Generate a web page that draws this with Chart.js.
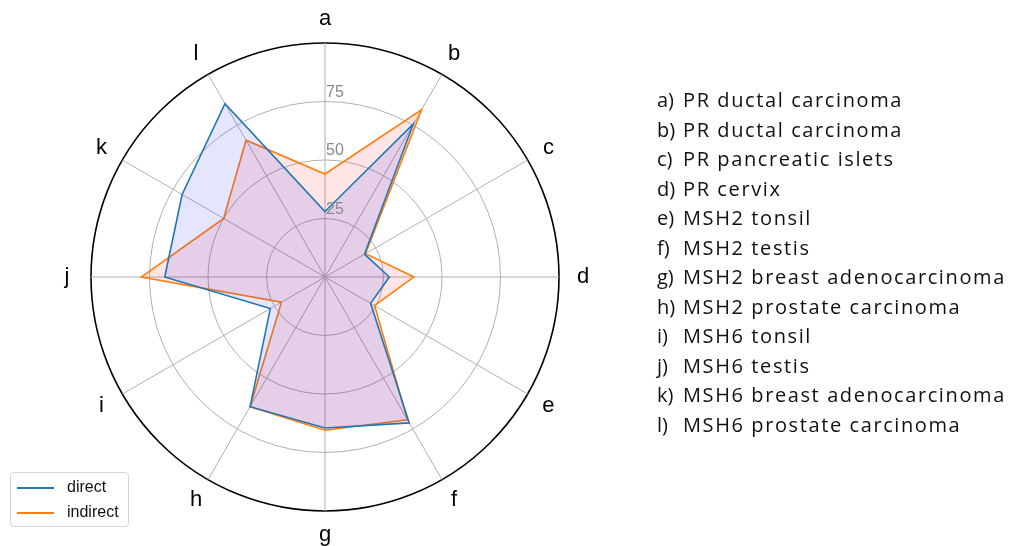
<!DOCTYPE html>
<html>
<head>
<meta charset="utf-8">
<script src="https://cdn.jsdelivr.net/npm/chart.js@4"></script>
<style>
  html, body { margin: 0; padding: 0; background: #fff; }
  #wrap { position: relative; width: 1013px; height: 546px; }
  #Chart { position: absolute; left: 0; top: 0; }
  #names { position: absolute; left: 657px; top: 85px; font-family: "Open Sans", Lato, sans-serif; font-size: 20px; letter-spacing: 1.6px; color: #111; }
  #names div { position: relative; height: 29.5px; line-height: 29.5px; white-space: nowrap; }
  #names span.k { display: inline-block; width: 26px; letter-spacing: 0; }
  #legend { position: absolute; left: 10px; top: 472px; width: 117px; height: 53px; border: 1px solid #d4d4d4; border-radius: 4px; font-family: "Liberation Sans", Arial, sans-serif; font-size: 16px; color: #111; }
  #legend div { position: absolute; left: 0; height: 20px; line-height: 20px; }
  #legend i { display: inline-block; width: 37px; margin: 0 13px 0 6px; vertical-align: middle; border-top: 2px solid; }
</style>
</head>
<body>
<div id="wrap">
  <canvas id="Chart" width="1013" height="546"></canvas>
  <div id="names"></div>
  <div id="legend"></div>
</div>
<script>
const labels = ['a', 'b', 'c', 'd', 'e', 'f', 'g', 'h', 'i', 'j', 'k', 'l'];
const direct = [28, 75.5, 19.5, 27.5, 22.5, 72, 64.5, 64, 27, 68.5, 70.5, 85.5];
const indirect = [44, 82.5, 20, 38, 24.5, 70.5, 65.5, 64, 21.5, 78.5, 50, 67.5];
const tickValues = [25, 50, 75];
const names = [
  'PR ductal carcinoma',
  'PR ductal carcinoma',
  'PR pancreatic islets',
  'PR cervix',
  'MSH2 tonsil',
  'MSH2 testis',
  'MSH2 breast adenocarcinoma',
  'MSH2 prostate carcinoma',
  'MSH6 tonsil',
  'MSH6 testis',
  'MSH6 breast adenocarcinoma',
  'MSH6 prostate carcinoma'
];
const seriesNames = ['direct', 'indirect'];
const lineColors = ['#1f77b4', '#ff7f0e'];
const fillColors = ['rgba(0,0,255,0.1)', 'rgba(255,0,0,0.1)'];

// letters round the rim and the 25/50/75 labels, placed through the scale
const rimText = {
  id: 'rimText',
  afterDraw(chart) {
    const s = chart.scales.r;
    const ctx = chart.ctx;
    ctx.save();
    ctx.fillStyle = '#000';
    ctx.font = '22px "Liberation Sans", Arial, sans-serif';
    ctx.textAlign = 'center';
    ctx.textBaseline = 'middle';
    labels.forEach((l, i) => {
      const p = s.getPointPosition(i, s.drawingArea + 24);
      ctx.fillText(l, p.x, p.y);
    });
    ctx.fillStyle = '#888';
    ctx.font = '16px "Liberation Sans", Arial, sans-serif';
    ctx.textAlign = 'left';
    ctx.textBaseline = 'alphabetic';
    tickValues.forEach(v => {
      const d = s.getDistanceFromCenterForValue(v);
      ctx.fillText(String(v), s.xCenter + 1, s.yCenter - d - 5);
    });
    ctx.restore();
  }
};

var chart = new Chart('Chart', {
  type: 'radar',
  data: {
    labels: labels,
    datasets: [{
      label: seriesNames[0],
      data: direct,
      borderColor: lineColors[0],
      backgroundColor: fillColors[0],
      borderWidth: 1.6,
      fill: true,
      pointRadius: 0,
      tension: 0
    }, {
      label: seriesNames[1],
      data: indirect,
      borderColor: lineColors[1],
      backgroundColor: fillColors[1],
      borderWidth: 1.6,
      fill: true,
      pointRadius: 0,
      tension: 0
    }]
  },
  options: {
    responsive: false,
    animation: false,
    layout: { padding: { left: 91, right: 454, top: 43, bottom: 35 } },
    plugins: {
      legend: { display: false },
      tooltip: { enabled: false }
    },
    scales: {
      r: {
        min: 0,
        max: 100,
        ticks: { display: false, stepSize: 25 },
        pointLabels: { display: false },
        grid: {
          circular: true,
          color: (c) => (c.tick && c.tick.value === 100) ? '#000' : '#b0b0b0',
          lineWidth: (c) => (c.tick && c.tick.value === 100) ? 1.6 : 1
        },
        angleLines: { color: '#b0b0b0', lineWidth: 1 }
      }
    }
  },
  plugins: [rimText]
});

const namesBox = document.getElementById('names');
names.forEach((n, i) => {
  const row = document.createElement('div');
  row.innerHTML = '<span class="k">' + labels[i] + ')</span>' + n;
  namesBox.appendChild(row);
});

const legendBox = document.getElementById('legend');
seriesNames.forEach((n, i) => {
  const row = document.createElement('div');
  row.style.top = (4 + i * 25) + 'px';
  row.innerHTML = '<i style="border-color:' + lineColors[i] + '"></i>' + n;
  legendBox.appendChild(row);
});
</script>
</body>
</html>
